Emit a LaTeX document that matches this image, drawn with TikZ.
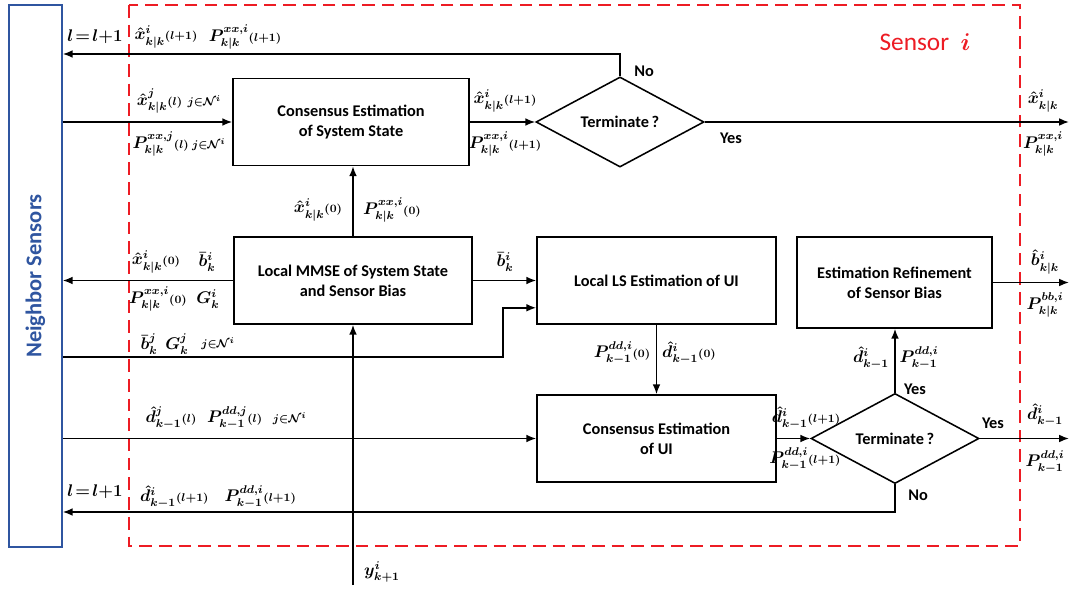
\documentclass[tikz,border=0pt]{standalone}
\usepackage{amsmath}
\usepackage{fontspec}
\setsansfont{Carlito}
\usetikzlibrary{shapes.geometric,arrows.meta,calc}
\definecolor{sensred}{RGB}{237,28,36}
\definecolor{nbblue}{RGB}{47,85,160}
\newcommand{\itn}[1]{{\scriptstyle(#1)}}
\newcommand{\nbr}{{\scriptstyle j\in\mathcal{N}^{i}}}
\tikzset{
  block/.style={draw,line width=1.1pt,align=center,minimum height=2.175cm,
    font=\sffamily\bfseries\fontsize{11.6}{14}\selectfont},
  decide/.style={draw,diamond,line width=1.1pt,inner sep=0pt,
    minimum width=4.2cm,minimum height=1.925cm,
    font=\sffamily\bfseries\fontsize{11.6}{14}\selectfont},
  lab/.style={inner sep=0.5pt,font=\fontsize{12}{14}\selectfont\boldmath},
  txt/.style={inner sep=1pt,font=\sffamily\bfseries\fontsize{11.6}{14}\selectfont},
  flow/.style={line width=1.1pt,->},
}
\begin{document}
\begin{tikzpicture}[x=0.025cm,y=-0.025cm,>={Latex[length=7pt,width=5.5pt]}]
  \useasboundingbox (0,0) rectangle (1071,590);
  % frames
  \node[draw=nbblue,line width=1.1pt,minimum width=1.325cm,minimum height=13.55cm,inner sep=0pt] (nb) at (35.5,276) {};
  \node[rotate=90,text=nbblue,font=\sffamily\bfseries\fontsize{16}{18}\selectfont] (nbtxt) at (nb.center) {Neighbor Sensors};
  \draw[sensred,line width=1.2pt,dash pattern=on 9pt off 5pt] (129,5) rectangle (1020,546);
  \node[text=sensred,font=\sffamily\fontsize{18}{20}\selectfont] (title) at (925,42) {Sensor\ \ $\boldsymbol{i}$};
  % blocks
  \node[block,minimum width=5.9cm] (cse) at (351,122) {Consensus Estimation\\of System State};
  \node[block,minimum width=5.95cm] (mmse) at (353,280.5) {Local MMSE of System State\\and Sensor Bias};
  \node[block,minimum width=5.975cm] (lls) at (656.5,280.5) {Local LS Estimation of UI};
  \node[block,minimum width=5.975cm] (cui) at (656.5,438.5) {Consensus Estimation\\of UI};
  \node[block,minimum width=4.875cm,minimum height=2.275cm] (ref) at (894.5,282.5) {Estimation Refinement\\of Sensor Bias};
  \node[decide] (dec1) at (620,122) {Terminate\,?};
  \node[decide] (dec2) at (895,438.5) {Terminate\,?};
  % free ends
  \coordinate (ytop) at (0,54);
  \coordinate (ybot) at (0,512);
  \coordinate (outx) at (1069,0);
  \coordinate (bjt) at (503,357);
  \coordinate (yin) at (353,585);
  % connectors
  \draw[flow] (dec1.north) |- (nb.east |- ytop);
  \draw[flow] (nb.east |- cse.west) -- (cse.west);
  \draw[flow] (cse.east) -- (dec1.west);
  \draw[flow] (dec1.east) -- (outx |- dec1.east);
  \draw[flow] (mmse.north) -- (mmse.north |- cse.south);
  \draw[flow] (mmse.west) -- (nb.east |- mmse.west);
  \draw[flow] (mmse.east) -- (lls.west);
  \draw[flow] (nb.east |- bjt) -- (bjt) |- ($(lls.south west)+(0,-17)$);
  \draw[flow] (lls.south) -- (cui.north);
  \draw[flow] (nb.east |- cui.west) -- (cui.west);
  \draw[flow] (cui.east) -- (dec2.west);
  \draw[flow] (dec2.north) -- (dec2.north |- ref.south);
  \draw[flow] (ref.east) -- (outx |- ref.east);
  \draw[flow] (dec2.east) -- (outx |- dec2.east);
  \draw[flow] (dec2.south) |- (nb.east |- ybot);
  \draw[flow] (yin) -- (mmse.south);
  % labels
  \node[lab] (ll1) at (95,37) {$l\!=\!l{+}1$};
  \node[lab] (xt) at (166,37) {$\hat{x}^{i}_{k|k}\itn{l{+}1}$};
  \node[lab] (pt) at (245,37) {$P^{xx,i}_{k|k}\itn{l{+}1}$};
  \node[lab] (xj) at (179,101) {$\hat{x}^{j}_{k|k}\itn{l}\;\nbr$};
  \node[lab] (pj) at (179,144) {$P^{xx,j}_{k|k}\itn{l}\,\nbr$};
  \node[lab] (x1) at (505,101) {$\hat{x}^{i}_{k|k}\itn{l{+}1}$};
  \node[lab] (p1) at (505,144) {$P^{xx,i}_{k|k}\itn{l{+}1}$};
  \node[txt] (no1) at (644,71) {No};
  \node[txt] (yes1) at (731,138) {Yes};
  \node[lab] (xo) at (1043,101) {$\hat{x}^{i}_{k|k}$};
  \node[lab] (po) at (1043,144) {$P^{xx,i}_{k|k}$};
  \node[lab] (x0) at (318,210) {$\hat{x}^{i}_{k|k}\itn{0}$};
  \node[lab] (p0) at (392,210) {$P^{xx,i}_{k|k}\itn{0}$};
  \node[lab] (x0n) at (156,262) {$\hat{x}^{i}_{k|k}\itn{0}$};
  \node[lab] (bn) at (207,262) {$\bar{b}^{i}_{k}$};
  \node[lab] (p0n) at (158,299) {$P^{xx,i}_{k|k}\itn{0}$};
  \node[lab] (gn) at (208,299) {$G^{i}_{k}$};
  \node[lab] (bj) at (149,344) {$\bar{b}^{j}_{k}$};
  \node[lab] (gj) at (177,344) {$G^{j}_{k}$};
  \node[lab] (nj) at (218,344) {$\nbr$};
  \node[lab] (bl) at (505,262) {$\bar{b}^{i}_{k}$};
  \node[lab] (pd0) at (622,353) {$P^{dd,i}_{k-1}\itn{0}$};
  \node[lab] (dd0) at (689,353) {$\hat{d}^{i}_{k-1}\itn{0}$};
  \node[lab] (dr) at (871,358) {$\hat{d}^{i}_{k-1}$};
  \node[lab] (pr) at (919,358) {$P^{dd,i}_{k-1}$};
  \node[txt] (yes2) at (915,389) {Yes};
  \node[lab] (dj) at (226,418) {$\hat{d}^{j}_{k-1}\itn{l}\;\;P^{dd,j}_{k-1}\itn{l}\;\;\nbr$};
  \node[lab] (d1) at (806,418) {$\hat{d}^{i}_{k-1}\itn{l{+}1}$};
  \node[lab] (pd1) at (805,459) {$P^{dd,i}_{k-1}\itn{l{+}1}$};
  \node[txt] (yes3) at (993,423) {Yes};
  \node[txt] (no2) at (918,495) {No};
  \node[lab] (bo) at (1045,262) {$\hat{b}^{i}_{k|k}$};
  \node[lab] (pbo) at (1045,305) {$P^{bb,i}_{k|k}$};
  \node[lab] (do) at (1045,415) {$\hat{d}^{i}_{k-1}$};
  \node[lab] (pdo) at (1045,462) {$P^{dd,i}_{k-1}$};
  \node[lab] (ll2) at (95,492) {$l\!=\!l{+}1$};
  \node[lab] (db) at (218,497) {$\hat{d}^{i}_{k-1}\itn{l{+}1}\;\;\;P^{dd,i}_{k-1}\itn{l{+}1}$};
  \node[lab] (yl) at (382,572) {$y^{i}_{k+1}$};
\end{tikzpicture}
\end{document}
